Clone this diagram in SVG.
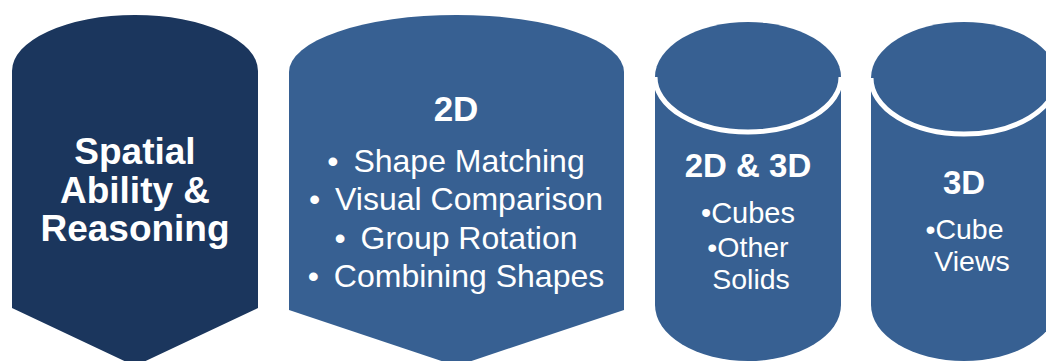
<svg xmlns="http://www.w3.org/2000/svg" width="1046" height="361" viewBox="0 0 1046 361">
<style>
.dark{fill:#1B365D}
.mid{fill:#376092}
.title{font-family:"Liberation Sans",Arial,sans-serif;font-weight:bold;fill:#FFFFFF;text-anchor:middle}
.item{font-family:"Liberation Sans",Arial,sans-serif;fill:#FFFFFF;text-anchor:middle}
.rim{fill:none;stroke:#FFFFFF;stroke-width:5}
</style>
<rect width="1046" height="361" fill="#FFFFFF"/>
<g id="node-spatial">
<path class="dark" d="M12,71 A123,56 0 0 1 258,71 V308 L135,366 L12,308 Z"/>
<text class="title" font-size="37" x="135" y="164">Spatial</text>
<text class="title" font-size="37" x="135" y="202.5">Ability &amp;</text>
<text class="title" font-size="37" x="135" y="241">Reasoning</text>
</g>
<g id="node-2d">
<path class="mid" d="M289,72 A167.5,57 0 0 1 624,72 V310 L456.5,366 L289,310 Z"/>
<text class="title" font-size="35" x="456" y="121">2D</text>
<text class="item" font-size="32" x="456" y="171.5">•<tspan dx="6"> Shape Matching</tspan></text>
<text class="item" font-size="32" x="456" y="210">•<tspan dx="6"> Visual Comparison</tspan></text>
<text class="item" font-size="32" x="456" y="248.5">•<tspan dx="6"> Group Rotation</tspan></text>
<text class="item" font-size="32" x="456" y="287">•<tspan dx="6"> Combining Shapes</tspan></text>
</g>
<g id="node-2d3d">
<path class="mid" d="M655,77 V305 A93,56 0 0 0 841,305 V77 Z"/>
<ellipse class="mid" cx="748" cy="77" rx="93" ry="55"/>
<path class="rim" d="M655,77 A93,55 0 0 0 841,77"/>
<text class="title" font-size="33" x="748" y="177">2D &amp; 3D</text>
<text class="item" font-size="29" x="748" y="222.5">•Cubes</text>
<text class="item" font-size="28.5" x="748" y="256.5">•Other</text>
<text class="item" font-size="28.5" x="751" y="288.5">Solids</text>
</g>
<g id="node-3d">
<path class="mid" d="M871,78 V305 A93,56 0 0 0 1057,305 V78 Z"/>
<ellipse class="mid" cx="964" cy="78" rx="93" ry="56"/>
<path class="rim" d="M871,78 A93,56 0 0 0 1057,78"/>
<text class="title" font-size="33" x="964" y="194">3D</text>
<text class="item" font-size="28.5" x="964.5" y="239">•Cube</text>
<text class="item" font-size="28.5" x="972" y="271">Views</text>
</g>
</svg>
